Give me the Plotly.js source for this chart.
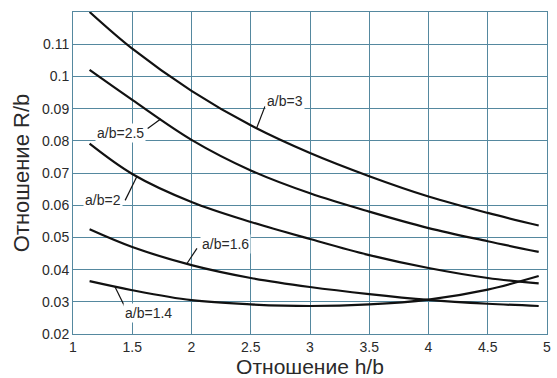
<!DOCTYPE html>
<html>
<head>
<meta charset="utf-8">
<script src="https://cdn.plot.ly/plotly-3.0.1.min.js"></script>
<style>
  html, body { margin: 0; padding: 0; background: #ffffff; }
  #chart { width: 557px; height: 378px; }
</style>
</head>
<body>
<div id="chart"></div>
<script>
// h/b sample positions
const hb = [1.14, 1.5, 2, 2.5, 3, 3.5, 4, 4.5, 4.93];

// R/b values for each a/b curve
const ab3   = [0.1200, 0.1086, 0.0955, 0.0848, 0.0762, 0.0690, 0.0627, 0.0576, 0.0537];
const ab2_5 = [0.1020, 0.0927, 0.0803, 0.0708, 0.0637, 0.0580, 0.0529, 0.0488, 0.0455];
const ab2   = [0.0791, 0.0697, 0.0610, 0.0548, 0.0495, 0.0445, 0.0405, 0.0374, 0.0357];
const ab1_6 = [0.0525, 0.0470, 0.0414, 0.0374, 0.0346, 0.0324, 0.0306, 0.0294, 0.0287];
const ab1_4 = [0.0364, 0.0336, 0.0305, 0.0292, 0.0287, 0.0292, 0.0307, 0.0338, 0.0380];

const seriesNames = ["a/b=3", "a/b=2.5", "a/b=2", "a/b=1.6", "a/b=1.4"];
const seriesValues = [ab3, ab2_5, ab2, ab1_6, ab1_4];

// axis ticks
const xTickVals = [1, 1.5, 2, 2.5, 3, 3.5, 4, 4.5, 5];
const xTickText = ["1", "1.5", "2", "2.5", "3", "3.5", "4", "4.5", "5"];
const yTickVals = [0.02, 0.03, 0.04, 0.05, 0.06, 0.07, 0.08, 0.09, 0.1, 0.11];
const yTickText = ["0.02", "0.03", "0.04", "0.05", "0.06", "0.07", "0.08", "0.09", "0.1", "0.11"];

// label placement (layout only): text centre, leader start (near text), leader end (on curve)
const labelPlacement = [
  {tx: 2.79, ty: 0.0924, x0: 2.62, y0: 0.0907, x1: 2.55, y1: 0.0840},
  {tx: 1.405, ty: 0.0825, x0: 1.63, y0: 0.0838, x1: 1.74, y1: 0.0868},
  {tx: 1.253, ty: 0.0615, x0: 1.44, y0: 0.0615, x1: 1.54, y1: 0.0690},
  {tx: 2.29, ty: 0.0478, x0: 2.046, y0: 0.0466, x1: 1.962, y1: 0.0419},
  {tx: 1.64, ty: 0.0265, x0: 1.44, y0: 0.0282, x1: 1.354, y1: 0.0347}
];

const gridColor = "#55889f";
const textColor = "#2a2a2a";
const fontFam = "Liberation Sans, Arial, sans-serif";

const traces = seriesValues.map((vals, i) => ({
  type: "scatter",
  mode: "lines",
  x: hb,
  y: vals,
  name: seriesNames[i],
  line: {color: "#111111", width: 2.2, shape: "spline", smoothing: 1},
  hoverinfo: "x+y+name"
}));

const shapes = labelPlacement.map(p => ({
  type: "line", xref: "x", yref: "y",
  x0: p.x0, y0: p.y0, x1: p.x1, y1: p.y1,
  line: {color: "#111111", width: 1.2}
}));

const annotations = labelPlacement.map((p, i) => ({
  x: p.tx, y: p.ty, xref: "x", yref: "y",
  text: seriesNames[i],
  showarrow: false,
  bgcolor: "#ffffff",
  borderpad: 1,
  font: {family: fontFam, size: 14, color: textColor}
}));

const layout = {
  width: 557,
  height: 378,
  margin: {l: 73, r: 10, t: 12, b: 44},
  paper_bgcolor: "#ffffff",
  plot_bgcolor: "#ffffff",
  showlegend: false,
  font: {family: fontFam, size: 14, color: textColor},
  xaxis: {
    range: [1, 5],
    tickvals: xTickVals,
    ticktext: xTickText,
    showgrid: true,
    gridcolor: gridColor,
    gridwidth: 1,
    showline: true,
    linecolor: gridColor,
    linewidth: 1,
    mirror: true,
    zeroline: false,
    ticks: "",
    tickfont: {family: fontFam, size: 14, color: textColor},
    title: {text: "Отношение h/b", font: {family: fontFam, size: 21, color: textColor}, standoff: 7}
  },
  yaxis: {
    range: [0.02, 0.12],
    tickvals: yTickVals,
    ticktext: yTickText,
    showgrid: true,
    gridcolor: gridColor,
    gridwidth: 1,
    showline: true,
    linecolor: gridColor,
    linewidth: 1,
    mirror: true,
    zeroline: false,
    ticks: "",
    tickfont: {family: fontFam, size: 14, color: textColor},
    title: {text: "Отношение R/b", font: {family: fontFam, size: 22, color: textColor}, standoff: 6}
  },
  shapes: shapes,
  annotations: annotations
};

Plotly.newPlot("chart", traces, layout, {displayModeBar: false, staticPlot: true});
</script>
</body>
</html>
